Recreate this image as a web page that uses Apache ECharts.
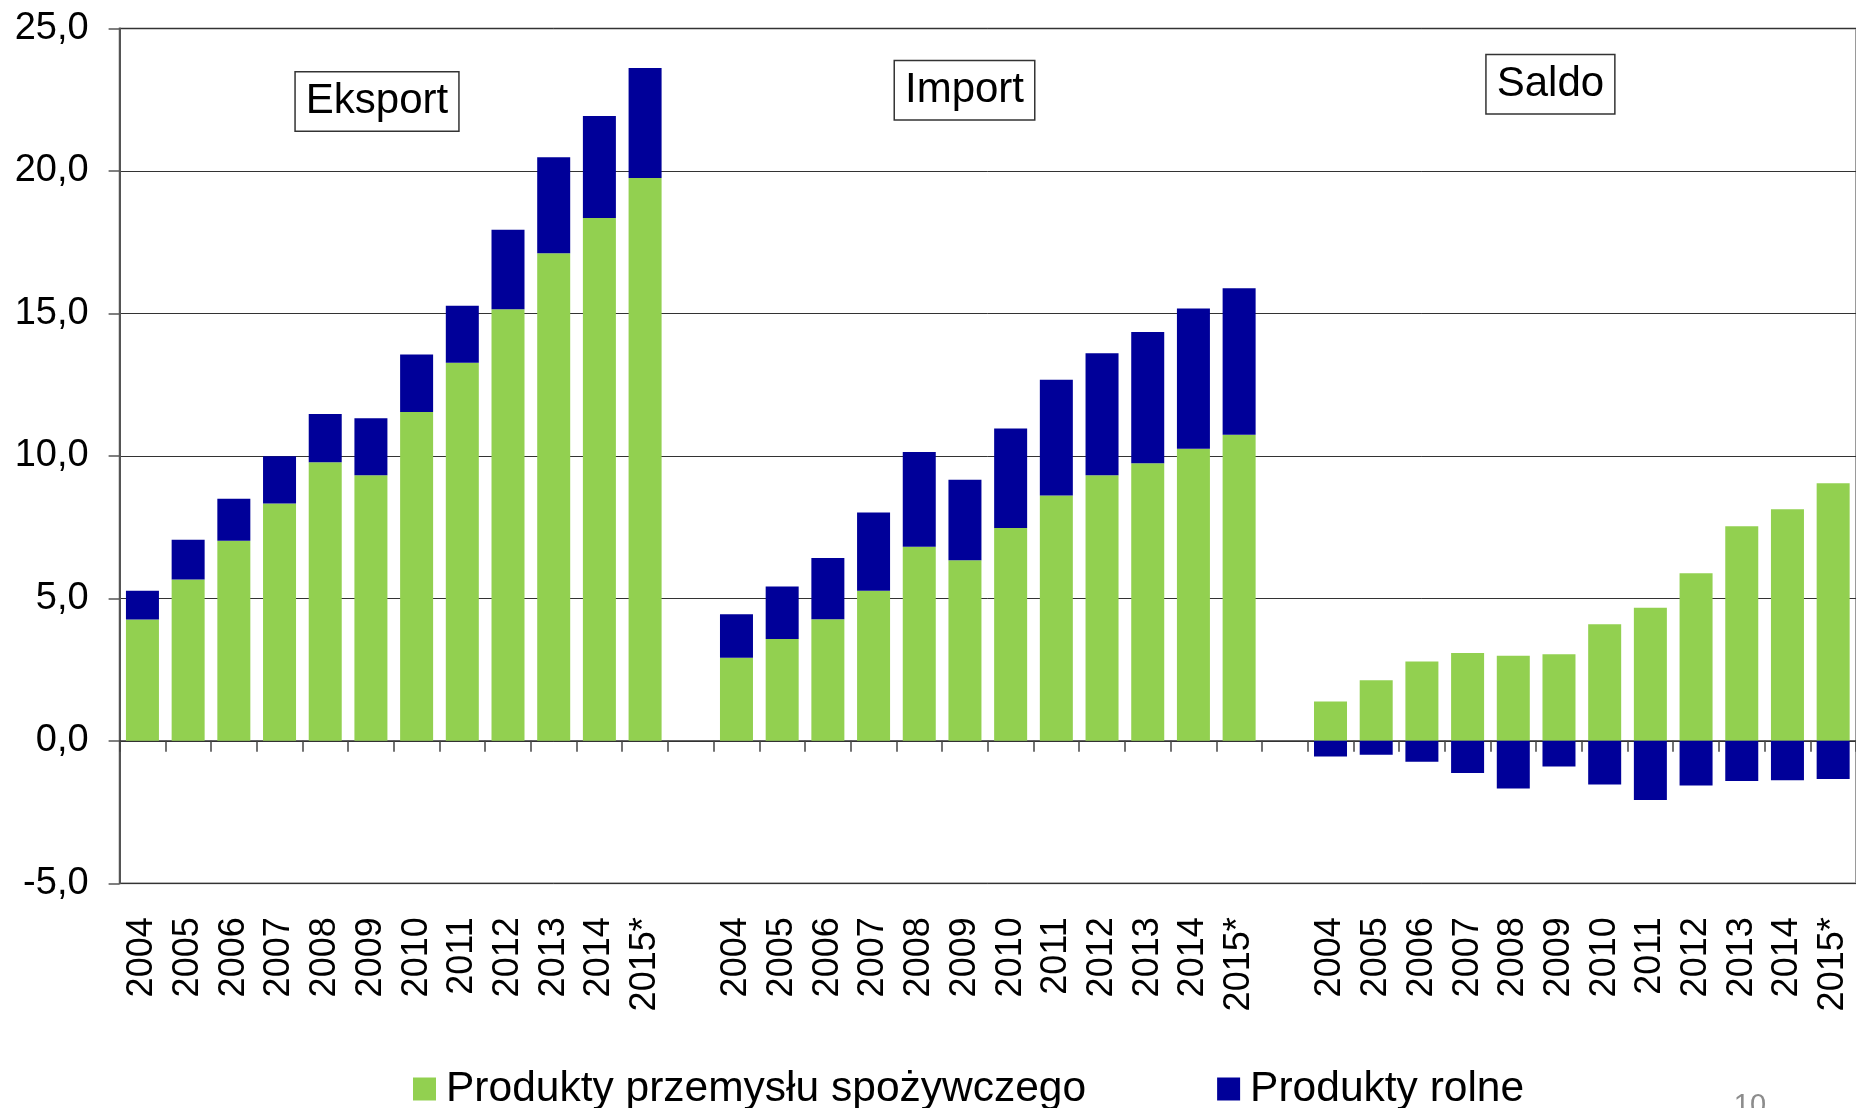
<!DOCTYPE html>
<html>
<head>
<meta charset="utf-8">
<script src="https://cdn.jsdelivr.net/npm/echarts@6/dist/echarts.min.js"></script>
<style>
  html, body { margin: 0; padding: 0; background: #fff; }
  #chart { width: 1856px; height: 1108px; }
</style>
</head>
<body>
<div id="chart"></div>
<script>
// ---- data ----
var years = ['2004','2005','2006','2007','2008','2009','2010','2011','2012','2013','2014','2015*'];
var groups = ['Eksport', 'Import', 'Saldo'];
var seriesNames = ['Produkty przemysłu spożywczego', 'Produkty rolne'];

var eksportFood = [4.26, 5.66, 7.02, 8.33, 9.78, 9.32, 11.54, 13.27, 15.15, 17.11, 18.35, 19.75];
var eksportAgri = [1.01, 1.40, 1.48, 1.66, 1.69, 2.00, 2.02, 2.00, 2.79, 3.37, 3.58, 3.86];
var importFood  = [2.92, 3.57, 4.27, 5.27, 6.81, 6.34, 7.47, 8.61, 9.32, 9.74, 10.25, 10.74];
var importAgri  = [1.52, 1.85, 2.15, 2.74, 3.33, 2.82, 3.49, 4.06, 4.28, 4.61, 4.92, 5.14];
var saldoFood   = [1.38, 2.13, 2.78, 3.08, 2.99, 3.04, 4.09, 4.67, 5.88, 7.53, 8.13, 9.04];
var saldoAgri   = [-0.55, -0.49, -0.73, -1.13, -1.67, -0.90, -1.53, -2.08, -1.57, -1.41, -1.38, -1.34];

var yTicks = [-5, 0, 5, 10, 15, 20, 25];

// ---- build categories (with group prefix, gap categories between groups) ----
function withPrefix(g) { return years.map(function (y) { return g + '|' + y; }); }
var categories = withPrefix('Eksport').concat(['gap1|'], withPrefix('Import'), ['gap2|'], withPrefix('Saldo'));
var foodData = eksportFood.concat(['-'], importFood, ['-'], saldoFood);
var agriData = eksportAgri.concat(['-'], importAgri, ['-'], saldoAgri);

var FONT = '"Liberation Sans", Arial, sans-serif';

var chart = echarts.init(document.getElementById('chart'), null, { renderer: 'canvas' });

function boxLabel(text, cx, cy) {
  return {
    type: 'text',
    x: cx, y: cy,
    z: 100,
    style: {
      text: text,
      font: '42px ' + FONT,
      fill: '#000',
      align: 'center',
      verticalAlign: 'middle',
      lineHeight: 48,
      padding: [5, 10, 5, 10],
      backgroundColor: '#fff',
      borderColor: '#333',
      borderWidth: 1.5
    }
  };
}

chart.setOption({
  animation: false,
  backgroundColor: '#fff',
  grid: {
    left: 119.6, right: 0, top: 28.5, bottom: 224.7,
    show: true, borderColor: '#9a9a9a', borderWidth: 2, backgroundColor: 'transparent'
  },
  legend: {
    data: seriesNames,
    left: 408, top: 1061,
    itemWidth: 23, itemHeight: 23, itemGap: 131,
    icon: 'rect',
    textStyle: { fontFamily: FONT, fontSize: 42.5, color: '#000', lineHeight: 46, padding: [0, 0, 0, 5] }
  },
  xAxis: [
    {
      type: 'category', data: categories, position: 'bottom',
      boundaryGap: true,
      axisLine: { show: false, onZero: false },
      axisTick: { show: false },
      axisLabel: {
        interval: 0, rotate: 90, margin: 34,
        fontFamily: FONT, fontSize: 36, color: '#000',
        formatter: function (v) { return v.split('|')[1] || ''; }
      },
      splitLine: { show: false }
    },
    {
      type: 'category', data: categories, position: 'bottom',
      boundaryGap: true,
      axisLine: { show: true, onZero: true, lineStyle: { color: '#333', width: 1.5 } },
      axisTick: { show: true, interval: 0, length: 11, inside: false, lineStyle: { color: '#444', width: 1.5 } },
      axisLabel: { show: false },
      splitLine: { show: false }
    }
  ],
  yAxis: {
    type: 'value', min: yTicks[0], max: yTicks[yTicks.length - 1], interval: 5,
    axisLine: { show: true, lineStyle: { color: '#555', width: 2 } },
    axisTick: { show: true, length: 11, lineStyle: { color: '#555', width: 1.5 } },
    axisLabel: {
      margin: 31, fontFamily: FONT, fontSize: 38, color: '#000',
      formatter: function (v) { return v.toFixed(1).replace('.', ','); }
    },
    splitLine: { show: true, lineStyle: { color: '#333', width: 1 } }
  },
  series: [
    {
      name: seriesNames[0], type: 'bar', stack: 'total', xAxisIndex: 0,
      barWidth: 33, data: foodData,
      itemStyle: { color: '#92D050' }
    },
    {
      name: seriesNames[1], type: 'bar', stack: 'total', xAxisIndex: 0,
      barWidth: 33, data: agriData,
      itemStyle: { color: '#000099' }
    }
  ],
  graphic: [
    boxLabel(groups[0], 377, 101.5),
    boxLabel(groups[1], 964.5, 90.3),
    boxLabel(groups[2], 1550.4, 84.2),
    {
      type: 'text', x: 1750, y: 1091, z: 100,
      style: { text: '10', font: '29px ' + FONT, fill: '#8c8c8c', align: 'center', verticalAlign: 'top' }
    }
  ]
});
</script>
</body>
</html>
